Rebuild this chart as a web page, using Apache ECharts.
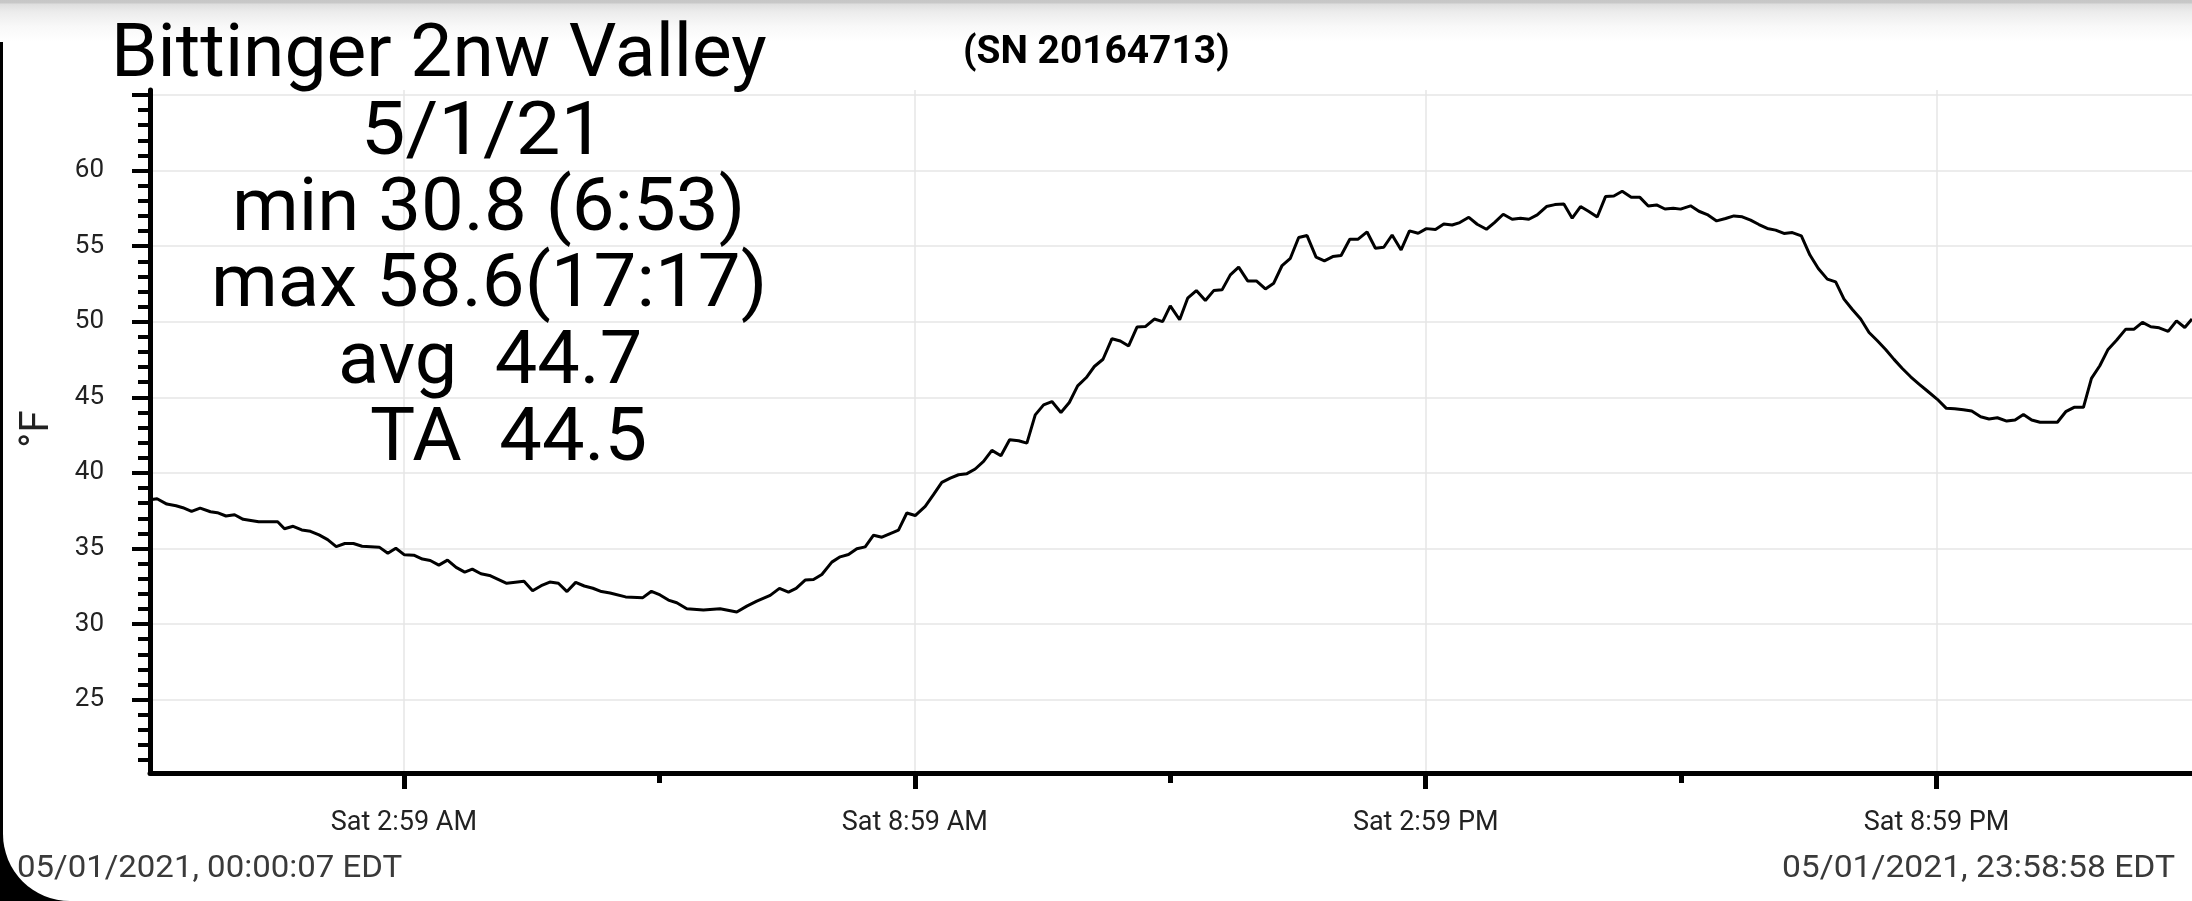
<!DOCTYPE html>
<html>
<head>
<meta charset="utf-8">
<script src="https://cdn.jsdelivr.net/npm/echarts@6/dist/echarts.min.js"></script>
<style>
html, body { margin: 0; padding: 0; width: 2192px; height: 901px; overflow: hidden; background: #000; }
#paper { position: absolute; left: 3px; top: 0; width: 2189px; height: 901px; background: #fff; border-bottom-left-radius: 67px; }
#topbar { position: absolute; left: 0; top: 0; width: 2192px; height: 42px;
  background: linear-gradient(#c6c6c6 0px, #c8c8c8 3px, #dedede 4px, #ececec 12px, #f8f8f8 26px, #ffffff 42px); }
#c { position: absolute; left: 0; top: 0; width: 2192px; height: 901px; }
</style>
</head>
<body>
<div id="paper"></div>
<div id="topbar"></div>
<div id="c"></div>
<script>
// ---- data (hours since midnight, °F) ----
const hours = [
  0.002, 0.085, 0.199, 0.308, 0.388, 0.490, 0.591, 0.712, 0.793, 0.894,
  0.995, 1.096, 1.278, 1.501, 1.581, 1.683, 1.784, 1.886, 1.987, 2.088,
  2.189, 2.290, 2.391, 2.492, 2.694, 2.795, 2.889, 2.990, 3.100, 3.201,
  3.293, 3.394, 3.496, 3.597, 3.698, 3.787, 3.888, 3.989, 4.090, 4.191,
  4.394, 4.495, 4.596, 4.697, 4.798, 4.899, 5.001, 5.102, 5.203, 5.304,
  5.405, 5.587, 5.790, 5.891, 5.992,
  6.090, 6.188, 6.306, 6.501, 6.697, 6.893, 7.011, 7.128, 7.285, 7.394,
  7.500, 7.590, 7.696, 7.794, 7.892, 8.009, 8.107, 8.205, 8.303, 8.401,
  8.499, 8.597, 8.695, 8.792, 8.890, 8.988, 9.106, 9.203, 9.301, 9.400,
  9.497, 9.596, 9.693, 9.791, 9.889, 9.995, 10.097, 10.203, 10.300, 10.398,
  10.496, 10.594, 10.700, 10.798, 10.896, 10.998, 11.092, 11.194, 11.299, 11.397,
  11.495, 11.593, 11.691, 11.797, 11.894,
  11.984, 12.094, 12.188, 12.290, 12.396, 12.494, 12.592, 12.689, 12.787, 12.893,
  12.995, 13.101, 13.199, 13.297, 13.394, 13.492, 13.590, 13.696, 13.794, 13.892,
  13.990, 14.092, 14.190, 14.295, 14.393, 14.491, 14.589, 14.695, 14.793, 14.895,
  14.992, 15.098, 15.196, 15.294, 15.384, 15.490, 15.588, 15.697, 15.791, 15.894,
  15.999, 16.097, 16.195, 16.293, 16.402, 16.500, 16.606, 16.704, 16.802, 16.900,
  16.998, 17.095, 17.193, 17.291, 17.397, 17.499, 17.597, 17.695, 17.793, 17.891,
  17.977, 18.094, 18.192, 18.290, 18.400, 18.505, 18.603, 18.701, 18.799, 18.897,
  18.995, 19.093, 19.191, 19.289, 19.395, 19.496, 19.594, 19.700, 19.798, 19.896,
  19.994, 20.092, 20.190, 20.288, 20.385, 20.483, 20.581, 20.679, 20.777, 20.875,
  20.992, 21.098, 21.196, 21.298, 21.396, 21.501, 21.599, 21.697, 21.807, 21.905,
  22.003, 22.100, 22.198, 22.402, 22.500, 22.598, 22.708, 22.802, 22.900, 22.997,
  23.099, 23.205, 23.303, 23.401, 23.499, 23.597, 23.703, 23.801, 23.898, 23.983
];
const tempF = [
  38.22, 38.29, 37.94, 37.83, 37.70, 37.45, 37.67, 37.43, 37.37, 37.15,
  37.23, 36.93, 36.77, 36.77, 36.31, 36.47, 36.23, 36.14, 35.90, 35.59,
  35.13, 35.33, 35.33, 35.15, 35.09, 34.69, 35.02, 34.58, 34.56, 34.30,
  34.21, 33.90, 34.23, 33.75, 33.44, 33.64, 33.33, 33.22, 32.96, 32.70,
  32.83, 32.21, 32.54, 32.78, 32.70, 32.15, 32.76, 32.52, 32.37, 32.15,
  32.06, 31.80, 31.75, 32.17, 31.93,
  31.59, 31.41, 31.02, 30.93, 31.02, 30.80, 31.19, 31.52, 31.90, 32.36,
  32.12, 32.36, 32.91, 32.95, 33.28, 34.10, 34.45, 34.60, 34.98, 35.11,
  35.88, 35.75, 35.99, 36.21, 37.35, 37.18, 37.79, 38.56, 39.38, 39.66,
  39.88, 39.95, 40.26, 40.76, 41.49, 41.14, 42.19, 42.13, 41.97, 43.84,
  44.50, 44.72, 44.00, 44.66, 45.76, 46.31, 47.04, 47.52, 48.88, 48.73,
  48.40, 49.65, 49.68, 50.18, 50.01,
  51.05, 50.13, 51.56, 52.06, 51.40, 52.06, 52.11, 53.10, 53.61, 52.70,
  52.70, 52.17, 52.55, 53.72, 54.20, 55.57, 55.70, 54.27, 54.03, 54.31,
  54.38, 55.46, 55.46, 55.94, 54.86, 54.93, 55.74, 54.75, 56.01, 55.85,
  56.16, 56.10, 56.47, 56.40, 56.56, 56.91, 56.45, 56.12, 56.56, 57.11,
  56.78, 56.85, 56.78, 57.07, 57.62, 57.75, 57.79, 56.85, 57.62, 57.29,
  56.93, 58.28, 58.32, 58.63, 58.23, 58.23, 57.66, 57.73, 57.46, 57.51,
  57.45, 57.67, 57.31, 57.09, 56.67, 56.83, 57.00, 56.94, 56.72, 56.43,
  56.17, 56.06, 55.84, 55.90, 55.68, 54.41, 53.52, 52.82, 52.64, 51.50,
  50.81, 50.18, 49.29, 48.74, 48.17, 47.51, 46.91, 46.36, 45.88, 45.42,
  44.87, 44.27, 44.25, 44.18, 44.09, 43.72, 43.57, 43.65, 43.43, 43.50,
  43.87, 43.50, 43.35, 43.35, 44.05, 44.34, 44.34, 46.25, 47.09, 48.17,
  48.79, 49.51, 49.51, 49.96, 49.67, 49.60, 49.36, 50.06, 49.62, 50.18
];

// ---- axis ticks and labels ----
const xMajorTicks = [2 + 59/60, 8 + 59/60, 14 + 59/60, 20 + 59/60];
const xMajorLabels = ['Sat 2:59 AM', 'Sat 8:59 AM', 'Sat 2:59 PM', 'Sat 8:59 PM'];
const xMinorTicks = [5 + 59/60, 11 + 59/60, 17 + 59/60];
const yMajorTicks = [25, 30, 35, 40, 45, 50, 55, 60, 65];
const yLabelValues = [25, 30, 35, 40, 45, 50, 55, 60];
const yMinorTicks = [21, 22, 23, 24, 26, 27, 28, 29, 31, 32, 33, 34, 36, 37, 38, 39,
  41, 42, 43, 44, 46, 47, 48, 49, 51, 52, 53, 54, 56, 57, 58, 59, 61, 62, 63, 64, 65];
const xMin = 7 / 3600;                      // 00:00:07
const xMax = 23 + 58 / 60 + 58 / 3600;      // 23:58:58
const yMin = 20.15, yMax = 65.33;

// ---- texts ----
const titleText = 'Bittinger 2nw Valley';
const serialText = '(SN 20164713)';
const statLines = ['5/1/21', 'min 30.8 (6:53)', 'max 58.6(17:17)', 'avg  44.7', 'TA  44.5'];
const startStamp = '05/01/2021, 00:00:07 EDT';
const endStamp = '05/01/2021, 23:58:58 EDT';
const yUnit = '°F';

// ---- text fitting helpers (layout only) ----
const mctx = document.createElement('canvas').getContext('2d');
function fontStr(size, family, weight) { return (weight || 'normal') + ' ' + size + 'px ' + family; }
function capRatio(family, weight) {
  mctx.font = fontStr(100, family, weight); mctx.textBaseline = 'alphabetic';
  return mctx.measureText('H').actualBoundingBoxAscent / 100;
}
function fitText(text, left, right, base, cap, family, weight, color) {
  const size = cap / capRatio(family, weight);
  mctx.font = fontStr(size, family, weight);
  mctx.textBaseline = 'alphabetic'; mctx.textAlign = 'left';
  const m = mctx.measureText(text);
  const inkW = m.actualBoundingBoxRight + m.actualBoundingBoxLeft;
  const sx = (right - left) / inkW;
  mctx.textBaseline = 'middle';
  const d = mctx.measureText('H').actualBoundingBoxDescent;
  return {
    type: 'text', x: left + m.actualBoundingBoxLeft * sx, y: base - d, scaleX: sx, scaleY: 1, z: 100,
    style: { text: text, x: 0, y: 0, fontSize: size, fontFamily: family, fontWeight: weight || 'normal',
      fill: color, align: 'left', verticalAlign: 'middle' }
  };
}

const F = 'Roboto';
const graphics = [
  fitText(titleText, 117, 766, 76, 53, F, 'normal', '#000'),
  fitText(serialText, 965, 1228, 63, 28, F, 'bold', '#000'),
  fitText(statLines[0], 366, 589, 154, 54, F, 'normal', '#000'),
  fitText(statLines[1], 237, 740, 230, 54, F, 'normal', '#000'),
  fitText(statLines[2], 216, 762, 306, 54, F, 'normal', '#000'),
  fitText(statLines[3], 341, 639, 383, 54, F, 'normal', '#000'),
  fitText(statLines[4], 371, 645, 460, 54, F, 'normal', '#000'),
  fitText(startStamp, 18, 402, 877, 23, F, 'normal', '#3a3a3a'),
  fitText(endStamp, 1783, 2175, 877, 23, F, 'normal', '#3a3a3a')
];
(function () {
  const size = 29 / capRatio(F, 'normal');
  mctx.font = fontStr(size, F, 'normal'); mctx.textBaseline = 'middle';
  const d = mctx.measureText('H').actualBoundingBoxDescent;
  graphics.push({
    type: 'text', x: 48 - d, y: 429, rotation: Math.PI / 2, z: 100,
    style: { text: yUnit, x: 0, y: 0, fontSize: size, fontFamily: F, fill: '#222',
      align: 'center', verticalAlign: 'middle' }
  });
})();

function xLabel(v) {
  for (let i = 0; i < xMajorTicks.length; i++) if (Math.abs(v - xMajorTicks[i]) < 1e-6) return xMajorLabels[i];
  return '';
}

const chart = echarts.init(document.getElementById('c'), null, { renderer: 'canvas' });
chart.setOption({
  animation: false,
  backgroundColor: 'transparent',
  grid: { left: 150, right: 0, top: 90, bottom: 128, containLabel: false, outerBoundsMode: 'none' },
  xAxis: [
    {
      type: 'value', min: xMin, max: xMax, position: 'bottom',
      axisLine: { show: true, onZero: false, lineStyle: { color: '#000', width: 5 } },
      axisTick: { show: true, customValues: xMajorTicks, length: 16, lineStyle: { color: '#000', width: 5 } },
      axisLabel: { show: true, customValues: xMajorTicks, formatter: xLabel, margin: 37,
        color: '#222', fontSize: 27, fontFamily: F },
      splitLine: { show: true, lineStyle: { color: '#e6e6e6', width: 1.5 } }
    },
    {
      type: 'value', min: xMin, max: xMax, position: 'bottom',
      axisLine: { show: false, onZero: false },
      axisTick: { show: true, customValues: xMinorTicks, length: 10, lineStyle: { color: '#000', width: 5 } },
      axisLabel: { show: false },
      splitLine: { show: false }
    }
  ],
  yAxis: [
    {
      type: 'value', min: yMin, max: yMax, position: 'left',
      axisLine: { show: true, onZero: false, lineStyle: { color: '#000', width: 5 } },
      axisTick: { show: true, customValues: yMajorTicks, length: 18, lineStyle: { color: '#000', width: 4 } },
      axisLabel: { show: true, customValues: yLabelValues, margin: 46, color: '#222', fontSize: 26, fontFamily: F },
      splitLine: { show: true, lineStyle: { color: '#e6e6e6', width: 1.5 } }
    },
    {
      type: 'value', min: yMin, max: yMax, position: 'left',
      axisLine: { show: false, onZero: false },
      axisTick: { show: true, customValues: yMinorTicks, length: 12, lineStyle: { color: '#000', width: 4 } },
      axisLabel: { show: false },
      splitLine: { show: false }
    }
  ],
  series: [{
    type: 'line', xAxisIndex: 0, yAxisIndex: 0,
    data: hours.map((h, i) => [h, tempF[i]]),
    showSymbol: false, symbol: 'none',
    lineStyle: { color: '#000', width: 3 },
    z: 3
  }],
  graphic: { elements: graphics }
});
</script>
</body>
</html>
